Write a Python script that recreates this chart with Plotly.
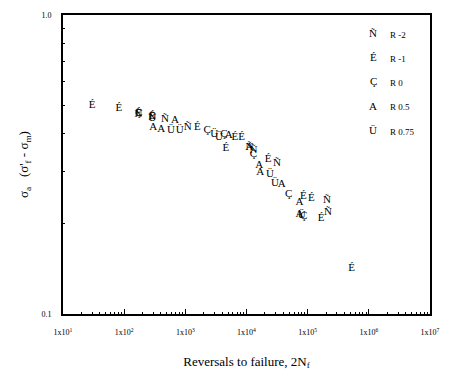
import plotly.graph_objects as go

# Reversals to failure (2Nf) and normalized amplitude for each R ratio
r_m2_x = [172, 288, 466, 1090, 11170, 12950, 31450, 207000, 215000]
r_m2_y = [0.464, 0.456, 0.447, 0.420, 0.361, 0.353, 0.320, 0.240, 0.219]

r_m1_x = [30, 82, 172, 288, 1578, 6428, 8318, 4603, 22550, 85300, 114500, 165700, 521000]
r_m1_y = [0.500, 0.486, 0.470, 0.460, 0.420, 0.390, 0.390, 0.358, 0.330, 0.247, 0.243, 0.209, 0.142]

r_0_x = [172, 2282, 4276, 12950, 48980, 86000]
r_0_y = [0.468, 0.411, 0.399, 0.343, 0.251, 0.213]

r_05_x = [298, 402, 675, 5143, 11170, 16180, 16800, 37830, 73600, 73600]
r_05_y = [0.420, 0.414, 0.443, 0.396, 0.361, 0.315, 0.299, 0.271, 0.236, 0.215]

r_075_x = [288, 582, 811, 2956, 3556, 24290, 29200, 80000]
r_075_y = [0.450, 0.411, 0.411, 0.399, 0.390, 0.294, 0.273, 0.214]

series_symbols = ["Ñ", "É", "Ç", "A", "Ü"]
series_labels = ["R -2", "R -1", "R 0", "R 0.5", "R 0.75"]
series_x = [r_m2_x, r_m1_x, r_0_x, r_05_x, r_075_x]
series_y = [r_m2_y, r_m1_y, r_0_y, r_05_y, r_075_y]

x_tickvals = [10, 100, 1000, 1e4, 1e5, 1e6, 1e7]
x_ticktext = ["1x10<sup>1</sup>", "1x10<sup>2</sup>", "1x10<sup>3</sup>", "1x10<sup>4</sup>",
              "1x10<sup>5</sup>", "1x10<sup>6</sup>", "1x10<sup>7</sup>"]
y_tickvals = [0.1, 1.0]
y_ticktext = ["0.1", "1.0"]

FONT = "Liberation Serif"

fig = go.Figure()
for sym, lab, xs, ys in zip(series_symbols, series_labels, series_x, series_y):
    fig.add_trace(go.Scatter(
        x=xs, y=ys, mode="text", text=[sym] * len(xs),
        textposition="middle center",
        textfont=dict(family=FONT, size=11, color="black"),
        name=lab, showlegend=False, hoverinfo="x+y"))

# legend drawn as text inside plot
for i, (sym, lab) in enumerate(zip(series_symbols, series_labels)):
    yy = 0.94 - i * 0.081
    fig.add_annotation(x=0.845, y=yy, xref="paper", yref="paper", text=sym,
                       showarrow=False, font=dict(family=FONT, size=11, color="black"),
                       xanchor="center", yanchor="middle")
    fig.add_annotation(x=0.885, y=yy - 0.006, xref="paper", yref="paper", text=lab,
                       showarrow=False, font=dict(family=FONT, size=9, color="black"),
                       xanchor="left", yanchor="middle")

minor_x = []
for d in range(1, 7):
    for k in range(2, 10):
        minor_x.append(k * 10 ** d)
minor_y = [k / 10 for k in range(2, 10)]

fig.update_xaxes(type="log", range=[1, 7], tickvals=x_tickvals, ticktext=x_ticktext,
                 ticks="inside", ticklen=5, tickwidth=1, tickcolor="black",
                 showline=True, linecolor="black", linewidth=1.6, mirror=True,
                 showgrid=False, zeroline=False, ticklabelstandoff=10,
                 tickfont=dict(family=FONT, size=8, color="black"),
                 minor=dict(tickvals=minor_x, ticks="inside", ticklen=2.5, tickcolor="black"),
                 title=dict(text="Reversals to failure, 2N<sub>f</sub>",
                            font=dict(family=FONT, size=13, color="black"), standoff=20))
fig.update_yaxes(type="log", range=[-1, 0], tickvals=y_tickvals, ticktext=y_ticktext,
                 ticks="inside", ticklen=5, tickwidth=1, tickcolor="black",
                 showline=True, linecolor="black", linewidth=1.6, mirror=True,
                 showgrid=False, zeroline=False, ticklabelstandoff=8,
                 tickfont=dict(family=FONT, size=8, color="black"),
                 minor=dict(tickvals=minor_y, ticks="inside", ticklen=2.5, tickcolor="black"),
                 title=dict(text="σ<sub>a</sub>   (σ'<sub>f</sub> - σ<sub>m</sub>)",
                            font=dict(family=FONT, size=13, color="black"), standoff=10))

fig.update_layout(width=451, height=378, margin=dict(l=63, r=14, t=11, b=64),
                  plot_bgcolor="white", paper_bgcolor="white", showlegend=False)

fig.write_html("out.html")
